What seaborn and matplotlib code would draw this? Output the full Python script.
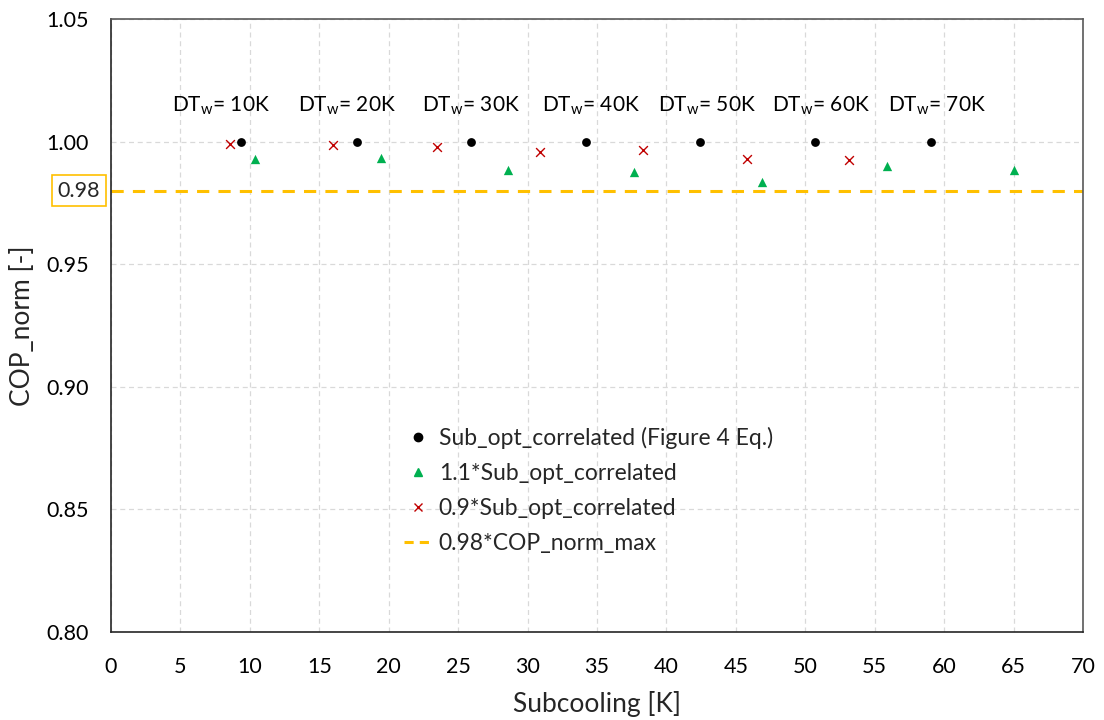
import matplotlib
matplotlib.use("Agg")
import matplotlib.pyplot as plt
import matplotlib.transforms as mtransforms
from matplotlib.lines import Line2D
import seaborn as sns
import pandas as pd

# ---- data ----
opt_x = [9.36, 17.72, 25.93, 34.2, 42.42, 50.7, 59.05]
opt_y = [1.000, 1.000, 1.000, 1.000, 1.000, 1.000, 1.000]
hi_x = [10.37, 19.44, 28.59, 37.66, 46.88, 55.88, 65.03]
hi_y = [0.9929, 0.9933, 0.9886, 0.9876, 0.9836, 0.9899, 0.9886]
lo_x = [8.55, 15.96, 23.45, 30.9, 38.29, 45.78, 53.17]
lo_y = [0.9989, 0.9985, 0.9978, 0.9956, 0.9966, 0.9929, 0.9925]
ref_x = [0, 70]
ref_y = [0.98, 0.98]
dt_labels = ["10K", "20K", "30K", "40K", "50K", "60K", "70K"]
dt_label_x = [7.9, 17.0, 25.9, 34.6, 42.9, 51.1, 59.5]
x_ticks = list(range(0, 75, 5))
y_ticks = [0.80, 0.85, 0.90, 0.95, 1.00, 1.05]
legend_labels = ["Sub_opt_correlated (Figure 4 Eq.)", "1.1*Sub_opt_correlated",
                 "0.9*Sub_opt_correlated", "0.98*COP_norm_max"]

sns.set_theme(style="white")
plt.rcParams['font.family'] = ['Lato', 'DejaVu Sans']
plt.rcParams['mathtext.fontset'] = 'custom'
plt.rcParams['mathtext.rm'] = 'Lato'

GREEN = "#00B050"
RED = "#C00000"
ORANGE = "#FFC000"

fig, ax = plt.subplots(figsize=(11.04, 7.2), dpi=100)
fig.subplots_adjust(left=111/1104, right=1083/1104, top=1-19/720, bottom=1-632/720)

sns.lineplot(x=ref_x, y=ref_y, ax=ax, color=ORANGE, lw=2.2, dashes=False,
             linestyle=(0, (4, 3)), zorder=2)
sns.scatterplot(x=opt_x, y=opt_y, ax=ax, color="black", marker="o", s=40,
                edgecolor="black", linewidth=0, zorder=3)
sns.scatterplot(x=hi_x, y=hi_y, ax=ax, color=GREEN, marker="^", s=45,
                edgecolor=GREEN, linewidth=0, zorder=3)
sns.scatterplot(x=lo_x, y=lo_y, ax=ax, color=RED, marker="x", s=40,
                linewidth=1.0, zorder=3)

for xx, lab in zip(dt_label_x, dt_labels):
    ax.text(xx, 1.0145, r"DT$_{\mathrm{w}}$= " + lab, ha="center", va="center",
            fontsize=15, color="black")

ax.set_xlim(0, 70)
ax.set_ylim(0.80, 1.05)
ax.set_xticks(x_ticks)
ax.set_yticks(y_ticks)
ax.set_yticklabels([f"{v:.2f}" for v in y_ticks])
ax.tick_params(axis="both", direction="in", length=6, width=1, colors="#404040",
               labelsize=15.5, labelcolor="black")
ax.tick_params(axis="x", pad=18)
ax.tick_params(axis="y", pad=16)
ax.grid(True, color="#D9D9D9", linestyle=(0, (4, 3)), linewidth=0.9)
for sp in ax.spines.values():
    sp.set_color("#595959")
    sp.set_linewidth(1.2)
ax.spines["left"].set_color("#262626")
ax.spines["bottom"].set_color("#262626")

ax.set_xlabel("Subcooling [K]", fontsize=19, labelpad=10)
ax.set_ylabel("COP_norm [-]", fontsize=19, labelpad=8)

trans = mtransforms.blended_transform_factory(fig.transFigure, ax.transData)
ax.text(79/1104, 0.98, "0.98", transform=trans, ha="center", va="center",
        fontsize=15.5, bbox=dict(boxstyle="square,pad=0.25", fc="white", ec=ORANGE, lw=1.2))

handles = [
    Line2D([], [], marker="o", color="black", ls="none", markersize=6),
    Line2D([], [], marker="^", color=GREEN, ls="none", markersize=6),
    Line2D([], [], marker="x", color=RED, ls="none", markersize=6, mew=1),
    Line2D([], [], color=ORANGE, lw=2.2, ls=(0, (3, 2))),
]
leg = ax.legend(handles, legend_labels, loc="upper left",
                bbox_to_anchor=(393/1104, 1-415/720), bbox_transform=fig.transFigure,
                frameon=False, fontsize=16.5, handlelength=1.2, handletextpad=0.3,
                labelspacing=0.62, borderpad=0)

fig.savefig("out.png", dpi=100)
